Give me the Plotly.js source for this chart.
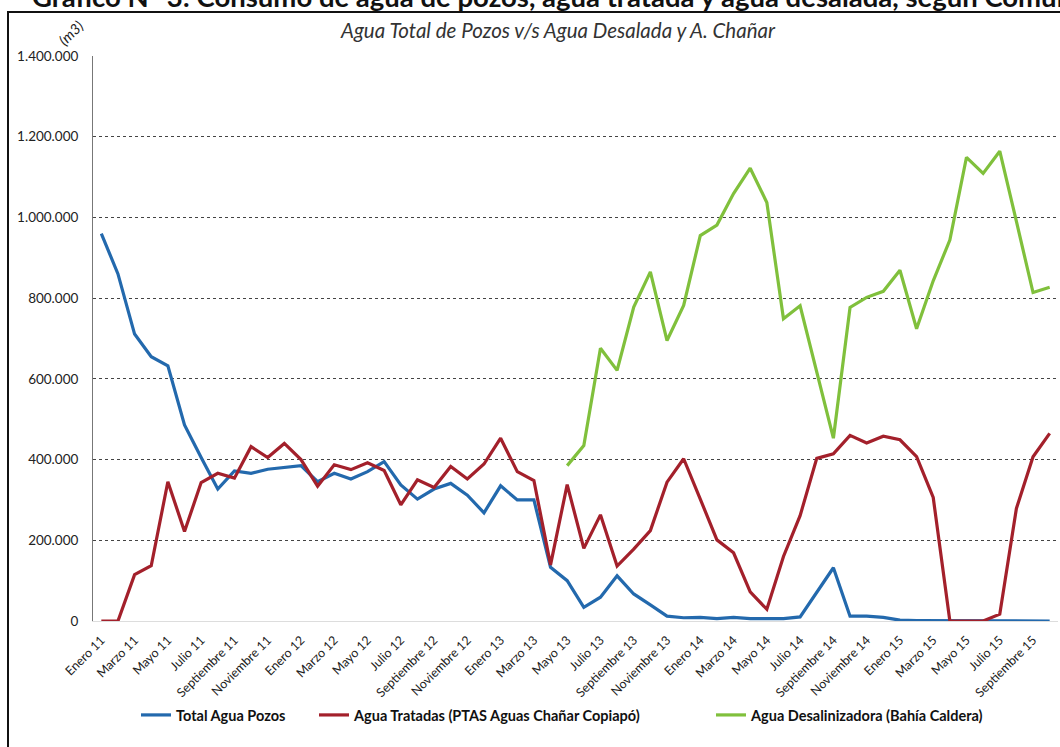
<!DOCTYPE html>
<html>
<head>
<meta charset="utf-8">
<script src="https://cdn.plot.ly/plotly-3.0.1.min.js"></script>
<style>html,body{margin:0;padding:0;background:#fff;}#chart{width:1060px;height:747px;}</style>
</head>
<body>
<div id="chart"></div>
<script>
const monthNames = ['Enero','Febrero','Marzo','Abril','Mayo','Junio','Julio','Agosto','Septiembre','Octubre','Noviembre','Diciembre'];
const years = ['11','12','13','14','15'];
const nMonths = 58;

const totalPozos = [960000,860000,711000,655000,632000,486000,405000,327000,372000,366000,376000,381000,
  385000,345000,366000,352000,370000,395000,337000,302000,327000,341000,312000,268000,
  335000,300000,300000,133000,100000,34000,59000,112000,67000,40000,12000,8000,
  9000,6000,9000,6000,6000,6000,10000,72000,132000,12000,12000,9000,
  2000,1000,1000,1000,0,0,0,0,0,0];

const aguaTratadas = [0,0,115000,137000,345000,222000,343000,366000,354000,432000,405000,440000,
  400000,334000,387000,375000,392000,373000,288000,350000,331000,383000,352000,389000,
  453000,370000,348000,139000,338000,180000,263000,136000,178000,224000,344000,402000,
  302000,201000,169000,72000,29000,160000,261000,403000,414000,460000,441000,458000,
  449000,407000,306000,0,0,0,17000,279000,407000,465000];

const aguaDesalinizadora = [null,null,null,null,null,null,null,null,null,null,null,null,
  null,null,null,null,null,null,null,null,null,null,null,null,
  null,null,null,null,385000,435000,676000,621000,778000,865000,695000,782000,
  955000,981000,1059000,1122000,1037000,749000,781000,615000,453000,777000,802000,817000,
  869000,724000,843000,944000,1149000,1109000,1164000,990000,814000,827000];

const seriesNames = ['Total Agua Pozos','Agua Tratadas (PTAS Aguas Chañar Copiapó)','Agua Desalinizadora (Bahía Caldera)'];
const seriesColors = ['#2369ad','#a3202b','#80c03c'];

const months = [];
for (let i = 0; i < nMonths; i++) {
  months.push(monthNames[i % 12] + ' ' + years[Math.floor(i / 12)]);
}
const tickMonths = months.filter((m, i) => i % 2 === 0);

// pixel helpers for layout placement
const W = 1060, H = 747, L = 93, R = 1058, T = 56, B = 621;
const px = x => (x - L) / (R - L);
const py = y => (B - y) / (B - T);

const legendIds = ['legend', 'legend2', 'legend3'];
const legendX = [136, 314, 711];

const seriesData = [totalPozos, aguaTratadas, aguaDesalinizadora];
const traces = seriesData.map((d, k) => ({
  x: months, y: d, type: 'scatter', mode: 'lines', name: seriesNames[k],
  line: {color: seriesColors[k], width: 3.2}, connectgaps: false,
  legend: legendIds[k]
}));

const legendFont = {size: 14.5, family: 'Lato, sans-serif', color: '#111', weight: 'bold'};
const makeLegend = k => ({orientation: 'h', x: px(legendX[k]), xanchor: 'left', y: py(715), yanchor: 'middle',
  font: legendFont, itemwidth: 30, bgcolor: 'rgba(0,0,0,0)', borderwidth: 0});

const layout = {
  width: W, height: H,
  margin: {l: L, r: W - R, t: T, b: H - B, pad: 0},
  paper_bgcolor: '#ffffff', plot_bgcolor: '#ffffff',
  separators: ',.',
  font: {family: 'Lato, "Open Sans", sans-serif', color: '#222'},
  showlegend: true,
  legend: makeLegend(0), legend2: makeLegend(1), legend3: makeLegend(2),
  xaxis: {type: 'category', range: [-0.5, nMonths - 0.5], tickmode: 'array',
    tickvals: tickMonths, ticktext: tickMonths, tickangle: -45,
    tickfont: {size: 12.5, color: '#222'}, showgrid: false, zeroline: false,
    showline: true, linecolor: '#dddddd', linewidth: 1, ticks: '', ticklabelstandoff: 6, fixedrange: true},
  yaxis: {range: [0, 1400000], dtick: 200000, tickformat: ',d',
    tickfont: {size: 13.5, color: '#222'}, showgrid: true, gridcolor: '#444',
    griddash: 'dot', gridwidth: 1, zeroline: false, showline: true,
    linecolor: '#777', linewidth: 1, ticks: '', ticklabelstandoff: 11, fixedrange: true},
  shapes: [
    {type: 'rect', xref: 'paper', yref: 'paper', x0: px(8), x1: px(1075), y0: py(12), y1: py(760),
     line: {color: '#111', width: 2}, fillcolor: 'rgba(0,0,0,0)', layer: 'below'}
  ],
  annotations: [
    {xref: 'paper', yref: 'paper', x: px(558), y: py(30), xanchor: 'center', yanchor: 'middle',
     text: 'Agua Total de Pozos v/s Agua Desalada y A. Chañar', showarrow: false,
     font: {size: 20.5, color: '#333', style: 'italic', family: 'Lato, sans-serif'}},
    {xref: 'paper', yref: 'paper', x: px(70), y: py(33), xanchor: 'center', yanchor: 'middle',
     text: '(m3)', showarrow: false, textangle: -45,
     font: {size: 14.5, color: '#222', style: 'italic', family: 'Lato, sans-serif'}},
    {xref: 'paper', yref: 'paper', x: px(30), y: py(15), xanchor: 'left', yanchor: 'bottom',
     text: 'Gráfico N° 3: Consumo de agua de pozos, agua tratada y agua desalada, según Comuna', showarrow: false,
     font: {size: 27.5, color: '#111', weight: 'bold', family: 'Lato, sans-serif'}}
  ]
};

Plotly.newPlot('chart', traces, layout, {displayModeBar: false, staticPlot: true});
</script>
</body>
</html>
